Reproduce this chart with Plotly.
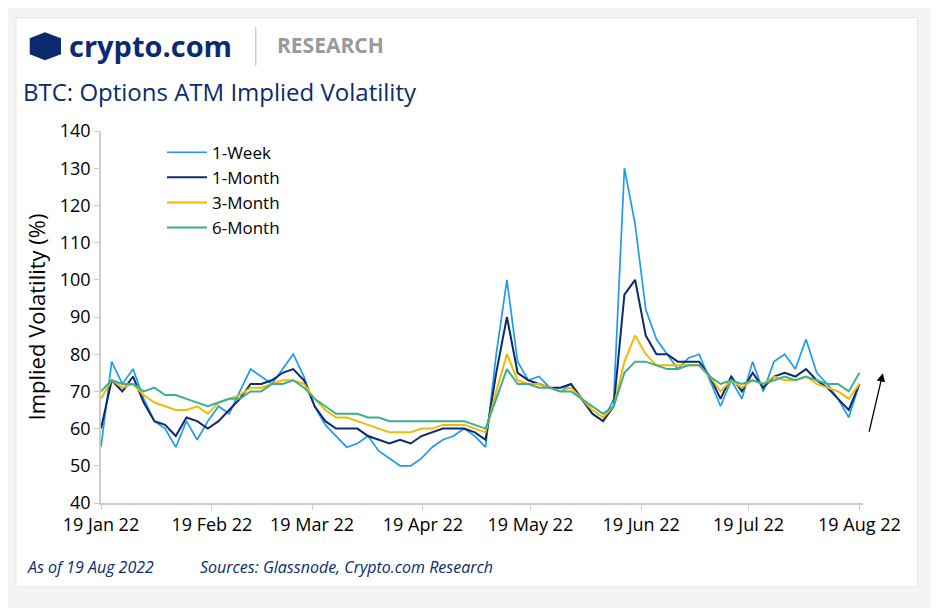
import pandas as pd
import plotly.graph_objects as go

# values sampled every 3 days from 19 Jan 22 to 19 Aug 22
week_1 = [55, 78, 72, 76, 68, 62, 60, 55, 62, 57, 62, 66, 64, 70, 76, 74, 72, 76, 80, 74,
          66, 61, 58, 55, 56, 58, 54, 52, 50, 50, 52, 55, 57, 58, 60, 58, 55, 80, 100, 78,
          73, 74, 71, 70, 72, 68, 64, 62, 68, 130, 115, 92, 84, 80, 76, 79, 80, 73, 66, 73,
          68, 78, 70, 78, 80, 76, 84, 75, 72, 68, 63, 72]
month_1 = [60, 73, 70, 74, 67, 62, 61, 58, 63, 62, 60, 62, 65, 68, 72, 72, 73, 75, 76, 73,
           66, 62, 60, 60, 60, 58, 57, 56, 57, 56, 58, 59, 60, 60, 60, 59, 57, 75, 90, 75,
           73, 72, 71, 71, 72, 68, 64, 62, 66, 96, 100, 85, 80, 80, 78, 78, 78, 74, 68, 74,
           70, 75, 71, 74, 75, 74, 76, 73, 71, 68, 65, 72]
month_3 = [68, 73, 71, 72, 69, 67, 66, 65, 65, 66, 64, 67, 68, 69, 71, 71, 72, 73, 73, 72,
           68, 65, 63, 63, 62, 61, 60, 59, 59, 59, 60, 60, 61, 61, 61, 60, 59, 70, 80, 73,
           72, 72, 71, 70, 71, 68, 65, 63, 66, 78, 85, 80, 77, 77, 77, 77, 77, 74, 70, 73,
           71, 73, 72, 74, 73, 73, 74, 72, 71, 70, 68, 72]
month_6 = [70, 73, 72, 72, 70, 71, 69, 69, 68, 67, 66, 67, 68, 68, 70, 70, 72, 72, 73, 71,
           68, 66, 64, 64, 64, 63, 63, 62, 62, 62, 62, 62, 62, 62, 62, 61, 60, 68, 76, 72,
           72, 71, 71, 70, 70, 68, 66, 64, 66, 75, 78, 78, 77, 76, 76, 77, 77, 74, 72, 73,
           72, 73, 72, 73, 74, 73, 74, 73, 72, 72, 70, 75]
dates = pd.date_range('2022-01-19', '2022-08-19', periods=len(week_1))
tick_dates = ['2022-01-19', '2022-02-19', '2022-03-19', '2022-04-19', '2022-05-19',
              '2022-06-19', '2022-07-19', '2022-08-19']
tick_labels = ['19 Jan 22', '19 Feb 22', '19 Mar 22', '19 Apr 22', '19 May 22',
               '19 Jun 22', '19 Jul 22', '19 Aug 22']

navy = '#0b2a6f'
fig = go.Figure()
for name, vals, col, w in [('1-Week', week_1, '#1e9bf0', 1.7), ('1-Month', month_1, navy, 2),
                           ('3-Month', month_3, '#f5b800', 2), ('6-Month', month_6, '#3ab08f', 2)]:
    fig.add_trace(go.Scatter(x=dates, y=vals, name=name, mode='lines',
                             line=dict(color=col, width=w)))

fig.update_layout(
    width=939, height=608, margin=dict(l=93, r=84, t=123, b=113, autoexpand=False),
    paper_bgcolor='#f4f4f4', plot_bgcolor='white',
    font=dict(family='Open Sans', size=18, color='black'),
    showlegend=True,
    legend=dict(x=0.08, y=0.99, bgcolor='rgba(0,0,0,0)', font=dict(size=17), tracegroupgap=0,
                itemwidth=40),
    xaxis=dict(range=['2022-01-19', '2022-08-20'], tickvals=tick_dates, ticktext=tick_labels,
               showgrid=False, showline=True, linecolor='#cccccc', linewidth=1.5,
               ticks='outside', tickcolor='#cccccc', ticklen=5),
    yaxis=dict(range=[40, 140], dtick=10, showgrid=False, showline=True, linecolor='#cccccc',
               linewidth=1.5, ticks='outside', tickcolor='#cccccc', ticklen=5, zeroline=False,
               title=dict(text='Implied Volatility (%)', standoff=8)),
    shapes=[
        dict(type='rect', xref='paper', yref='paper', x0=-0.1115, x1=1.0715, y0=-0.225, y1=1.305,
             fillcolor='white', line=dict(color='#e6e6e6', width=1), layer='below'),
        dict(type='path', xref='paper', yref='paper',
             path='M -0.0935 1.2495 L -0.0735 1.2655 L -0.0525 1.2495 L -0.0525 1.2065 L -0.0735 1.1905 L -0.0935 1.2065 Z',
             fillcolor=navy, line=dict(color=navy, width=0)),
        dict(type='line', xref='paper', yref='paper', x0=0.203, x1=0.203, y0=1.175, y1=1.28,
             line=dict(color='#cccccc', width=1.5)),
    ],
    annotations=[
        dict(text='<b>crypto.com</b>', xref='paper', yref='paper', x=-0.045, y=1.23,
             xanchor='left', yanchor='middle', showarrow=False,
             font=dict(size=29, color=navy, family='Open Sans')),
        dict(text='<b>RESEARCH</b>', xref='paper', yref='paper', x=0.228, y=1.23,
             xanchor='left', yanchor='middle', showarrow=False,
             font=dict(size=21, color='#999999', family='Open Sans')),
        dict(text='BTC: Options ATM Implied Volatility', xref='paper', yref='paper', x=-0.105, y=1.105,
             xanchor='left', yanchor='middle', showarrow=False,
             font=dict(size=24, color=navy, family='Open Sans')),
        dict(text='<i>As of 19 Aug 2022</i>', xref='paper', yref='paper', x=-0.1, y=-0.173,
             xanchor='left', yanchor='middle', showarrow=False,
             font=dict(size=16, color=navy)),
        dict(text='<i>Sources: Glassnode, Crypto.com Research</i>', xref='paper', yref='paper',
             x=0.127, y=-0.173, xanchor='left', yanchor='middle', showarrow=False,
             font=dict(size=16, color=navy)),
        dict(text='', xref='paper', yref='paper', x=1.026, y=0.349, axref='pixel', ayref='pixel',
             ax=-14, ay=60, showarrow=True, arrowhead=2, arrowsize=1.3, arrowwidth=1.3,
             arrowcolor='black'),
    ],
)

fig.write_html('out.html')
